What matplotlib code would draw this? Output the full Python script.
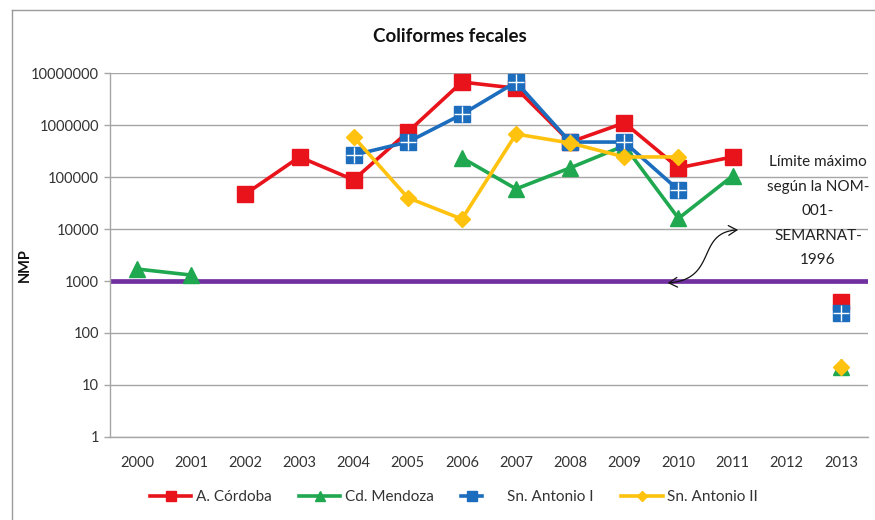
import numpy as np
import matplotlib
matplotlib.use("Agg")
import matplotlib.pyplot as plt
from matplotlib.path import Path
from matplotlib.patches import FancyArrowPatch
from matplotlib.lines import Line2D
from matplotlib.legend_handler import HandlerTuple

plt.rcParams['font.family'] = ['Lato', 'DejaVu Sans']

nan = np.nan
years = ["2000", "2001", "2002", "2003", "2004", "2005", "2006",
         "2007", "2008", "2009", "2010", "2011", "2012", "2013"]

cordoba = [nan, nan, 47000, 243000, 88000, 733000, 6700000,
           5100000, 470000, 1100000, 150000, 243000, nan, 400]
mendoza = [1700, 1300, nan, nan, nan, nan, 234000,
           59000, 150000, 400000, 16000, 105000, nan, 22]
antonio1 = [nan, nan, nan, nan, 265000, 470000, 1600000,
            6700000, 470000, 470000, 56000, nan, nan, 240]
antonio2 = [nan, nan, nan, nan, 590000, 40000, 15500,
            670000, 450000, 243000, 243000, nan, nan, 22]
limite = 1000

ytick_vals = [1, 10, 100, 1000, 10000, 100000, 1000000, 10000000]

RED = "#E8131B"
GREEN = "#1FA84F"
BLUE = "#1C6DBE"
YELLOW = "#FFC20E"
PURPLE = "#7030A0"

W, H = 875, 520
fig = plt.figure(figsize=(W / 100, H / 100), dpi=100)
ax = fig.add_axes([110 / W, 1 - 437 / H, (868 - 110) / W, (437 - 73) / H])

x = np.arange(len(years))

ax.set_yscale("log")
ax.set_ylim(1, 1e7)
ax.set_xlim(-0.5, len(years) - 0.5)

ax.axhline(limite, color=PURPLE, lw=3.4, zorder=2)

lw = 2.6
l_men, = ax.plot(x, mendoza, color=GREEN, lw=lw, marker="^", ms=11,
                 mec=GREEN, zorder=3)
l_ant1, = ax.plot(x, antonio1, color=BLUE, lw=lw, marker="s", ms=11,
                  mec=BLUE, zorder=4)
p_ant1, = ax.plot(x, antonio1, ls="none", marker="+", ms=11, mew=1.0,
                  color="white", zorder=4.1)
l_cor, = ax.plot(x, cordoba, color=RED, lw=lw, marker="s", ms=11,
                 mec=RED, zorder=3.5)
l_ant2, = ax.plot(x, antonio2, color=YELLOW, lw=lw, marker="D", ms=8.5,
                  mec=YELLOW, zorder=5)

ax.set_yticks(ytick_vals)
ax.set_yticklabels([str(v) for v in ytick_vals])
ax.yaxis.set_minor_locator(matplotlib.ticker.NullLocator())
ax.set_xticks(x)
ax.set_xticklabels(years)
ax.tick_params(axis="x", length=0, pad=14, labelsize=10.5, colors="#333333")
ax.tick_params(axis="y", length=4, width=1, color="#A6A6A6", pad=4,
               labelsize=10.5, labelcolor="#333333")

ax.grid(axis="y", color="#A6A6A6", lw=1)
ax.set_axisbelow(True)
for side in ("top", "right"):
    ax.spines[side].set_visible(False)
for side in ("left", "bottom"):
    ax.spines[side].set_color("#A6A6A6")
    ax.spines[side].set_linewidth(1)

fig.text(25 / W, 1 - 265 / H, "NMP", rotation=90, ha="center", va="center",
         fontsize=10.5, fontweight="bold", color="#111111")

fig.text(450 / W, 1 - 37 / H, "Coliformes fecales", ha="center",
         va="center", fontsize=13.5, fontweight="bold", color="#111111")

# Annotation for the regulatory limit
note = ["Límite máximo", "según la NOM-", "001-", "SEMARNAT-", "1996"]
for i, line in enumerate(note):
    ax.text((818 - 137) / 54.15, 10 ** ((437 - (162 + 24.5 * i)) / 52), line,
            ha="center", va="center", fontsize=11, color="#222222")

# smooth S-shaped double arrow linking the note to the limit line
ctrl = np.array([(9.80, np.log10(915)), (10.75, np.log10(1050)),
                 (10.30, np.log10(9000)), (11.10, np.log10(9600))])
t = np.linspace(0, 1, 60)[:, None]
curve = ((1 - t) ** 3 * ctrl[0] + 3 * (1 - t) ** 2 * t * ctrl[1]
         + 3 * (1 - t) * t ** 2 * ctrl[2] + t ** 3 * ctrl[3])
curve_data = np.column_stack([curve[:, 0], 10 ** curve[:, 1]])
arrow = FancyArrowPatch(path=Path(curve_data),
                        arrowstyle="<->,head_length=6,head_width=3.5",
                        color="#111111", lw=0.9, transform=ax.transData,
                        zorder=6)
ax.add_patch(arrow)

# Legend
h_cor = Line2D([], [], color=RED, lw=lw, marker="s", ms=6.5, mec=RED)
h_men = Line2D([], [], color=GREEN, lw=lw, marker="^", ms=6.5, mec=GREEN)
h_ant1 = Line2D([], [], color=BLUE, lw=lw, marker="s", ms=6.5, mec=BLUE)
h_ant1p = Line2D([], [], ls="none", marker="+", ms=6.5, mew=0.8, color="white")
h_ant2 = Line2D([], [], color=YELLOW, lw=lw, marker="D", ms=5, mec=YELLOW)
fig.legend([h_cor, h_men, (h_ant1, h_ant1p), h_ant2],
           ["A. Córdoba", "Cd. Mendoza", "Sn. Antonio I", "Sn. Antonio II"],
           handler_map={tuple: HandlerTuple(ndivide=None, pad=0)},
           loc="center", bbox_to_anchor=(454 / W, 1 - 497 / H), ncol=4,
           frameon=False, fontsize=11, handlelength=2.7, handletextpad=0.3,
           columnspacing=1.8, labelcolor="#333333")

# outer chart frame (left and top edges)
fig.add_artist(Line2D([12 / W, 12 / W], [0, 1 - 10 / H], transform=fig.transFigure,
                      color="#9A9A9A", lw=1))
fig.add_artist(Line2D([12 / W, 1], [1 - 10 / H, 1 - 10 / H], transform=fig.transFigure,
                      color="#9A9A9A", lw=1))

fig.savefig("out.png", dpi=100)
